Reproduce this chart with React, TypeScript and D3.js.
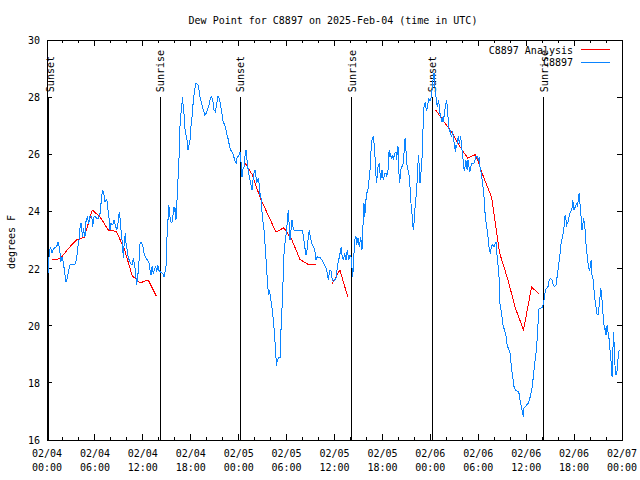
import React from "react";
import * as d3 from "d3";

const TITLE = "Dew Point for C8897 on 2025-Feb-04 (time in UTC)";
const Y_LABEL = "degrees F";
const SERIES_NAMES = ["C8897 Analysis", "C8897"];

const yTicks = [16, 18, 20, 22, 24, 26, 28, 30];
const xTickHours = [0, 6, 12, 18, 24, 30, 36, 42, 48, 54, 60, 66, 72];
const xTickDates = ["02/04", "02/04", "02/04", "02/04", "02/05", "02/05", "02/05", "02/05", "02/06", "02/06", "02/06", "02/06", "02/07"];
const xTickTimes = ["00:00", "06:00", "12:00", "18:00", "00:00", "06:00", "12:00", "18:00", "00:00", "06:00", "12:00", "18:00", "00:00"];
const xMinorHours = [2, 4, 8, 10, 14, 16, 20, 22, 26, 28, 32, 34, 38, 40, 44, 46, 50, 52, 56, 58, 62, 64, 68, 70];

const sunHours = [0.17, 14.15, 24.22, 38.13, 48.25, 62.2];
const sunLabels = ["Sunset", "Sunrise", "Sunset", "Sunrise", "Sunset", "Sunrise"];
const sunTop = 28;

// analysis (hourly, NaN = gap)
const redHours = [
  0.67, 1.67, 2.67, 3.67, 4.67, 5.67, 6.67, 7.67, 8.67, 9.67, 10.67, 11.67, 12.67, 13.67, 14.67,
  24.67, 25.67, 26.67, 27.67, 28.67, 29.67, 30.67, 31.67, 32.67, 33.67, 34.67,
  35.67, 36.67, 37.67, 38.67,
  48.67, 49.67, 50.67, 51.67, 52.67, 53.67, 54.67, 55.67, 56.67, 57.67, 58.67, 59.67, 60.67, 61.67,
];
const redValues = [
  22.3, 22.35, 22.7, 23.0, 23.1, 24.05, 23.8, 23.35, 23.3, 22.7, 21.75, 21.5, 21.6, 21.05, NaN,
  25.75, 25.3, 24.5, 23.88, 23.28, 23.43, 23.0, 22.32, 22.15, 22.13, NaN,
  21.45, 21.95, 21.0, NaN,
  27.55, 27.15, 26.78, 26.28, 25.87, 25.99, 25.2, 24.5, 22.55, 21.65, 20.6, 19.85, 21.35, 21.1,
];

// observations [hour, value]
const blueSeries: [number, number][] = [
  [0.16,21.83],[0.29,22.65],[0.46,22.74],[0.63,22.56],[0.79,22.67],[1.00,22.74],[1.21,22.77],[1.41,22.94],[1.54,22.74],[1.63,22.53],[1.72,22.24],[1.88,22.39],[2.04,22.24],[2.17,21.95],[2.38,21.54],[2.54,21.66],[2.72,21.95],[2.88,22.13],[3.29,22.15],[3.51,22.15],[3.72,22.36],[3.84,22.71],[4.04,23.06],[4.13,23.41],[4.26,23.59],[4.38,23.29],[4.47,23.12],[4.55,23.41],[4.76,23.12],[4.88,23.64],[5.05,23.82],[5.22,23.58],[5.38,23.82],[5.60,23.84],[5.72,23.47],[5.89,23.82],[6.01,23.82],[6.22,23.76],[6.42,23.76],[6.64,23.93],[6.85,24.52],[6.97,24.75],[7.14,24.58],[7.26,24.34],[7.48,24.42],[7.55,24.28],[7.68,23.93],[7.80,23.70],[7.89,23.35],[8.01,23.58],[8.23,23.53],[8.39,23.70],[8.55,23.53],[8.73,23.35],[8.89,23.58],[9.05,23.99],[9.18,23.70],[9.30,23.23],[9.48,22.77],[9.55,22.36],[9.68,22.94],[9.80,23.23],[9.93,22.77],[10.06,22.65],[10.18,22.36],[10.31,22.30],[10.48,22.18],[10.64,22.13],[10.81,22.36],[11.02,22.01],[11.23,21.43],[11.36,21.72],[11.48,22.07],[11.65,22.88],[11.77,22.94],[11.98,22.83],[12.15,22.53],[12.40,22.36],[12.56,22.30],[12.77,22.21],[12.90,21.95],[13.02,21.78],[13.15,22.07],[13.31,21.83],[13.44,21.95],[13.61,22.07],[13.74,21.89],[13.86,22.13],[13.99,21.95],[14.15,21.89],[14.31,21.86],[14.49,21.83],[14.65,21.72],[14.74,21.83],[14.90,22.07],[14.99,22.77],[15.06,23.35],[15.15,23.70],[15.24,24.23],[15.31,24.11],[15.40,23.82],[15.49,23.64],[15.65,23.61],[15.81,23.93],[15.90,24.17],[15.99,23.99],[16.07,24.11],[16.15,23.70],[16.24,24.17],[16.40,25.10],[16.49,25.45],[16.57,26.27],[16.65,26.97],[16.74,27.32],[16.82,27.55],[16.90,27.78],[16.99,28.02],[17.07,27.55],[17.15,27.43],[17.24,27.08],[17.32,26.73],[17.49,26.62],[17.57,26.38],[17.66,26.15],[17.74,26.27],[17.82,26.38],[17.91,26.50],[17.99,26.85],[18.07,27.08],[18.16,27.32],[18.24,27.55],[18.32,27.90],[18.49,28.25],[18.66,28.49],[18.82,28.46],[19.00,28.37],[19.07,28.13],[19.25,27.90],[19.41,27.73],[19.57,27.55],[19.75,27.38],[19.91,27.43],[20.07,27.55],[20.25,27.67],[20.41,27.90],[20.57,28.02],[20.75,27.90],[20.91,27.55],[21.08,27.49],[21.25,27.78],[21.41,28.02],[21.58,27.96],[21.75,27.67],[21.91,27.43],[22.00,27.20],[22.16,27.08],[22.33,26.97],[22.50,26.73],[22.66,26.56],[22.83,26.32],[23.00,26.15],[23.17,26.09],[23.33,25.98],[23.50,25.80],[23.67,25.68],[23.83,25.92],[24.00,25.94],[24.17,26.09],
  [24.25,25.92],[24.42,25.22],[24.51,25.45],[24.67,25.57],[24.83,26.03],[24.92,26.15],[25.01,25.98],[25.08,25.63],[25.21,25.45],[25.33,25.22],[25.42,25.10],[25.58,24.87],[25.67,24.75],[25.76,25.04],[25.92,25.33],[26.05,25.45],[26.17,25.22],[26.26,24.99],[26.33,25.10],[26.51,25.16],[26.58,24.87],[26.67,24.58],[26.76,24.63],[26.83,24.34],[26.92,23.99],[27.01,23.70],[27.17,23.35],[27.34,22.71],[27.51,21.95],[27.67,21.31],[27.76,21.08],[27.84,21.25],[27.92,21.13],[28.09,20.78],[28.26,20.43],[28.39,20.08],[28.51,19.56],[28.64,19.15],[28.71,18.59],[28.84,18.80],[29.01,18.89],[29.18,18.89],[29.26,19.50],[29.34,20.20],[29.46,20.78],[29.59,21.83],[29.68,22.53],[29.84,23.00],[30.02,23.35],[30.09,23.70],[30.22,24.05],[30.34,23.47],[30.43,23.00],[30.55,23.35],[30.68,23.70],[30.80,23.47],[30.93,23.35],[31.93,23.35],[32.09,23.18],[32.27,22.77],[32.43,22.48],[32.56,22.65],[32.68,23.00],[32.85,23.35],[32.93,23.18],[33.06,23.00],[33.22,22.83],[33.43,22.71],[33.60,22.53],[33.68,22.30],[33.85,22.41],[34.19,22.39],[34.44,22.30],[34.69,22.16],[34.94,22.01],[35.10,21.83],[35.23,21.60],[35.35,21.83],[35.44,21.95],[35.60,21.89],[35.69,21.66],[35.85,21.54],[36.02,21.60],[36.19,21.66],[36.28,21.83],[36.35,22.07],[36.53,22.30],[36.69,22.53],[36.85,22.77],[36.94,22.48],[37.10,22.30],[37.28,22.53],[37.44,22.30],[37.60,22.65],[37.78,22.30],[37.94,22.48],[38.11,22.37],
  [38.19,22.01],[38.28,21.72],[38.36,22.07],[38.53,23.00],[38.69,23.12],[38.78,22.83],[38.94,23.06],[39.11,22.77],[39.28,23.12],[39.44,22.65],[39.53,23.12],[39.61,23.93],[39.69,24.28],[39.78,23.82],[39.86,24.05],[39.94,24.40],[40.03,24.63],[40.19,24.75],[40.36,25.22],[40.45,25.45],[40.53,25.92],[40.61,26.27],[40.70,26.50],[40.86,26.62],[40.95,26.38],[41.03,26.15],[41.11,25.69],[41.20,25.22],[41.28,24.99],[41.36,25.33],[41.45,25.57],[41.61,25.69],[41.70,25.33],[41.79,25.10],[41.95,25.45],[42.04,25.22],[42.11,25.10],[42.29,25.33],[42.45,25.33],[42.54,25.22],[42.70,25.45],[42.79,26.03],[42.86,26.15],[42.95,25.92],[43.04,26.03],[43.11,25.86],[43.29,25.98],[43.36,25.80],[43.45,25.92],[43.54,26.03],[43.70,26.09],[43.79,25.80],[43.86,26.15],[43.95,26.27],[44.04,25.69],[44.11,24.99],[44.20,25.10],[44.29,25.45],[44.45,25.57],[44.62,25.69],[44.70,26.03],[44.79,26.50],[44.87,26.56],[44.95,26.15],[45.04,25.69],[45.20,25.45],[45.37,25.22],[45.54,24.52],[45.62,24.05],[45.70,23.93],[45.79,23.58],[45.87,23.35],[45.95,23.58],[46.04,23.93],[46.12,24.28],[46.21,24.52],[46.29,24.87],[46.37,25.10],[46.45,25.69],[46.54,25.98],[46.62,25.45],[46.71,24.99],[46.80,25.22],[46.87,25.57],[46.96,25.87],[47.04,26.50],[47.12,27.20],[47.21,27.67],[47.30,27.78],[47.37,27.84],[47.46,27.61],[47.55,27.55],[47.62,27.62],[47.71,27.78],[47.80,27.96],[47.87,27.90],[48.05,27.90],[48.17,28.13],[48.30,28.49],[48.37,28.72],[48.46,28.83],[48.55,28.49],[48.62,28.25],[48.71,28.01],[48.80,27.78],[48.87,27.66],[48.96,27.78],[49.05,27.90],[49.12,27.66],[49.21,27.43],[49.30,27.32],[49.37,27.20],[49.46,27.14],[49.55,27.32],[49.62,27.14],[49.71,27.32],[49.80,27.49],[49.87,27.66],[49.96,27.78],[50.05,27.90],[50.12,27.66],[50.21,27.32],[50.30,26.97],[50.37,26.80],[50.46,26.85],[50.55,26.73],[50.62,26.62],[50.71,26.67],[50.80,26.80],[50.87,26.56],[50.96,26.44],[51.05,26.27],[51.12,26.09],[51.21,26.33],[51.30,26.21],[51.37,26.44],[51.46,26.56],[51.55,26.62],[51.62,26.38],[51.71,26.50],[51.80,26.62],[51.87,26.44],[51.96,26.15],[52.05,25.92],[52.12,25.80],[52.21,25.51],[52.30,25.45],[52.37,25.63],[52.46,25.80],[52.55,25.57],[52.62,25.45],[52.71,25.80],[52.80,25.74],[52.87,25.45],[52.96,25.39],[53.12,25.63],[53.21,25.69],[53.37,25.66],[53.55,25.74],[53.71,25.92],[53.87,25.92],[54.05,25.80],[54.12,25.92],[54.21,25.57],[54.37,25.33],[54.55,24.99],[54.72,24.52],[54.88,23.82],[55.05,23.47],[55.22,23.12],[55.39,22.65],[55.55,22.53],[55.63,22.77],[55.80,22.83],[55.97,22.77],[56.14,22.88],[56.22,22.94],[56.31,22.65],[56.39,22.30],[56.56,21.95],[56.64,21.48],[56.72,20.78],[56.81,20.61],[56.97,20.31],[57.14,19.96],[57.31,19.85],[57.48,19.62],[57.64,19.27],[57.81,19.21],[57.98,19.03],[58.14,18.57],[58.31,18.22],[58.48,17.87],[58.64,17.75],[59.07,17.69],[59.23,17.40],[59.40,17.17],[59.58,16.93],[59.65,16.81],[59.73,17.11],[59.90,17.17],[60.23,17.28],[60.40,17.40],[60.57,17.58],[60.73,17.81],[60.90,18.22],[61.07,18.68],[61.23,19.03],[61.40,19.62],[61.49,20.08],[61.57,20.55],[61.65,20.62],[61.82,20.62],[62.07,20.66],[62.15,20.78],
  [62.32,21.02],[62.40,21.25],[62.57,21.31],[62.74,21.37],[62.90,21.62],[63.07,21.66],[63.24,21.60],[63.40,21.43],[63.57,21.37],[63.74,21.43],[63.82,21.60],[63.99,21.95],[64.15,22.30],[64.33,22.71],[64.40,23.00],[64.58,23.06],[64.65,23.35],[64.74,23.47],[64.83,23.82],[64.90,23.88],[64.99,23.70],[65.08,23.53],[65.24,23.64],[65.41,23.88],[65.58,23.99],[65.74,24.11],[65.83,24.40],[65.91,24.23],[65.99,24.05],[66.16,24.17],[66.33,24.28],[66.41,24.17],[66.49,24.34],[66.58,24.52],[66.65,24.66],[66.74,24.28],[66.83,24.05],[66.90,23.70],[66.99,23.35],[67.08,23.47],[67.16,23.76],[67.33,23.58],[67.41,23.18],[67.49,22.88],[67.58,22.65],[67.66,22.36],[67.83,22.01],[67.90,21.95],[67.99,22.01],[68.08,22.24],[68.16,22.30],[68.24,21.78],[68.41,21.60],[68.49,21.25],[68.58,21.02],[68.66,20.78],[68.74,20.67],[68.83,20.43],[68.99,20.38],[69.08,20.49],[69.16,20.78],[69.25,21.02],[69.33,21.31],[69.41,21.19],[69.50,20.90],[69.58,20.55],[69.66,20.26],[69.75,20.03],[69.83,19.85],[69.91,19.91],[70.00,19.68],[70.08,19.97],[70.16,20.03],[70.25,19.79],[70.33,19.62],[70.41,19.50],[70.50,19.15],[70.58,18.92],[70.66,18.63],[70.75,18.22],[70.83,18.57],[70.91,19.79],[70.99,19.50],[71.08,19.03],[71.16,18.28],[71.33,18.28],[71.41,18.51],[71.49,18.80],[71.58,19.03],[71.66,19.15],
];

const W = 640;
const H = 480;
const PL = 47;
const PR = 622;
const PT = 40;
const PB = 440;
const FONT = "'DejaVu Sans Mono', 'Liberation Mono', monospace";
const RED = "#ff0000";
const BLUE = "#0a84ff";

function Txt(props: { x: number; y: number; text: string; anchor?: string; rotate?: number }) {
  const { x, y, text, anchor = "start", rotate = 0 } = props;
  return (
    <text
      transform={`translate(${x},${y}) rotate(${rotate}) scale(0.91,1)`}
      textAnchor={anchor}
      fontFamily={FONT}
      fontSize={11}
      fill="#000"
    >
      {text}
    </text>
  );
}

export default function App() {
  const x = d3.scaleLinear().domain([0, 72]).range([PL, PR]);
  const y = d3.scaleLinear().domain([16, 30]).range([PB, PT]);

  const blueLine = d3
    .line<[number, number]>()
    .x((d) => x(d[0]))
    .y((d) => y(d[1]));

  const redData: [number, number][] = redHours.map((h, i) => [h, redValues[i]]);
  const redLine = d3
    .line<[number, number]>()
    .defined((d) => !isNaN(d[1]))
    .x((d) => x(d[0]))
    .y((d) => y(d[1]));

  return (
    <svg
      width={W}
      height={H}
      viewBox={`0 0 ${W} ${H}`}
      style={{ position: "absolute", left: 0, top: 0, background: "#fff" }}
    >
      <rect x={0} y={0} width={W} height={H} fill="#fff" />
      <Txt x={W / 2 + 13} y={24} text={TITLE} anchor="middle" />

      {/* y ticks */}
      {yTicks.map((t) => (
        <g key={"y" + t} shapeRendering="crispEdges">
          <line x1={PL} x2={PL + 5} y1={y(t)} y2={y(t)} stroke="#000" />
          <line x1={PR - 5} x2={PR} y1={y(t)} y2={y(t)} stroke="#000" />
        </g>
      ))}
      {yTicks.map((t) => (
        <Txt key={"yl" + t} x={40} y={y(t) + 4} text={String(t)} anchor="end" />
      ))}

      {/* x ticks */}
      {xTickHours.map((h) => (
        <g key={"x" + h} shapeRendering="crispEdges">
          <line x1={x(h)} x2={x(h)} y1={PB} y2={PB - 6} stroke="#000" />
          <line x1={x(h)} x2={x(h)} y1={PT} y2={PT + 6} stroke="#000" />
        </g>
      ))}
      {xMinorHours.map((h) => (
        <g key={"xm" + h} shapeRendering="crispEdges">
          <line x1={x(h)} x2={x(h)} y1={PB} y2={PB - 3} stroke="#000" />
          <line x1={x(h)} x2={x(h)} y1={PT} y2={PT + 3} stroke="#000" />
        </g>
      ))}
      {xTickHours.map((h, i) => (
        <g key={"xl" + h}>
          <Txt x={x(h)} y={457} text={xTickDates[i]} anchor="middle" />
          <Txt x={x(h)} y={471} text={xTickTimes[i]} anchor="middle" />
        </g>
      ))}

      <Txt x={15} y={(PT + PB) / 2 + 2} text={Y_LABEL} anchor="middle" rotate={-90} />

      {/* sunrise / sunset */}
      {sunHours.map((h, i) => (
        <g key={"s" + i}>
          <line
            x1={x(h)}
            x2={x(h)}
            y1={y(sunTop)}
            y2={PB}
            stroke="#000"
            shapeRendering="crispEdges"
          />
          <Txt x={x(h) + (i === 0 ? 6 : 4)} y={y(sunTop) - 5} text={sunLabels[i]} rotate={-90} />
        </g>
      ))}

      {/* series */}
      <path d={redLine(redData) || ""} fill="none" stroke={RED} strokeWidth={1} shapeRendering="crispEdges" />
      <path d={blueLine(blueSeries) || ""} fill="none" stroke={BLUE} strokeWidth={1} shapeRendering="crispEdges" />

      {/* border */}
      <rect
        x={PL}
        y={PT}
        width={PR - PL}
        height={PB - PT}
        fill="none"
        stroke="#000"
        shapeRendering="crispEdges"
      />

      {/* legend */}
      <Txt x={573} y={54} text={SERIES_NAMES[0]} anchor="end" />
      <line x1={581} x2={610} y1={49.5} y2={49.5} stroke={RED} />
      <Txt x={573} y={66} text={SERIES_NAMES[1]} anchor="end" />
      <line x1={581} x2={610} y1={62.5} y2={62.5} stroke={BLUE} />
    </svg>
  );
}
